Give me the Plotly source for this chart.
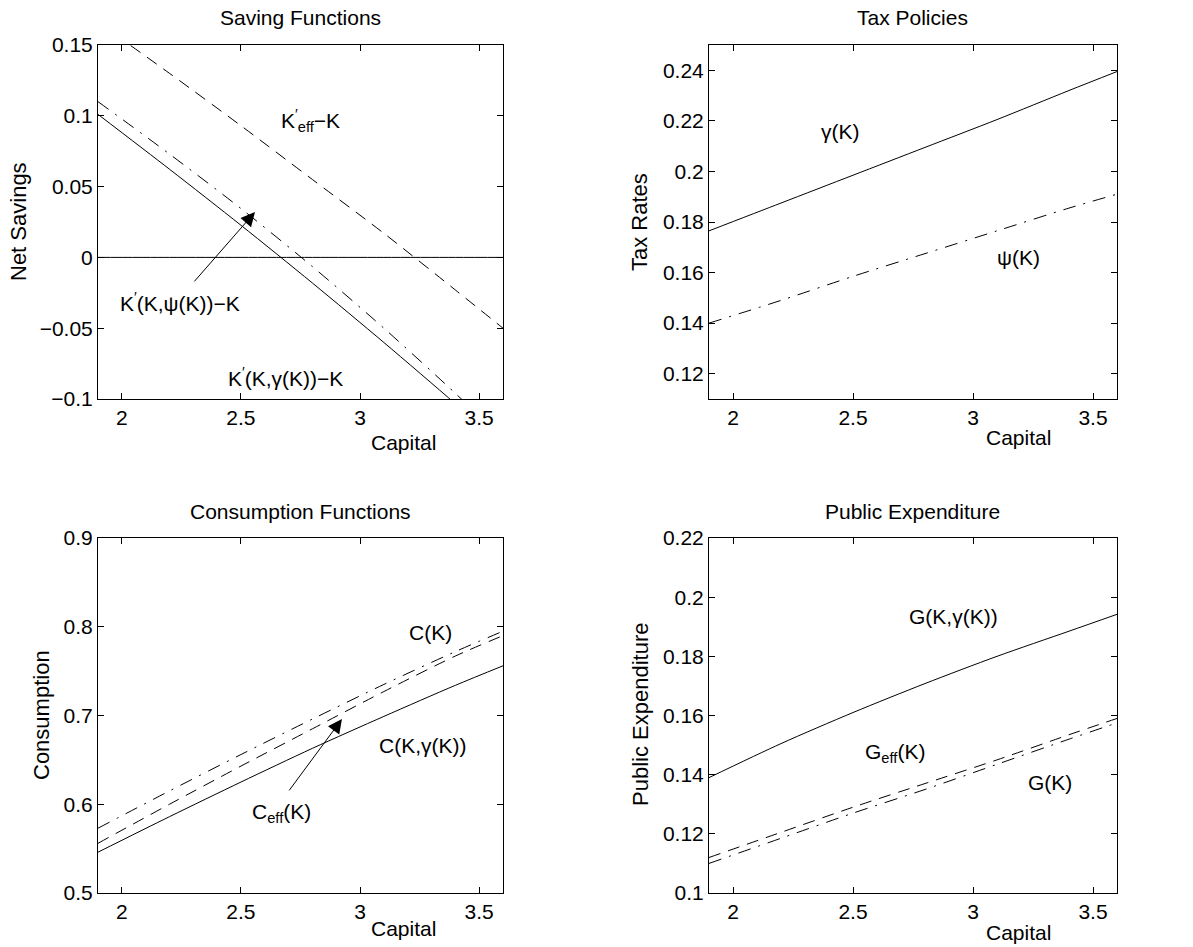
import plotly.graph_objects as go

# ---------------- data ----------------
capital = [1.9, 2.2, 2.5, 2.8, 3.1, 3.4, 3.6]

# Saving functions
sav_gamma = [0.101, 0.0623, 0.0227, -0.0181, -0.0601, -0.1033, -0.1327]
sav_psi = [0.110, 0.073, 0.0345, -0.0065, -0.050, -0.096, -0.128]
sav_eff = [0.166, 0.130, 0.093, 0.055, 0.017, -0.023, -0.050]
zero_line = [0, 0, 0, 0, 0, 0, 0]

# Tax policies
tax_gamma = [0.1765, 0.1875, 0.1985, 0.2095, 0.2205, 0.2320, 0.2395]
tax_psi = [0.1400, 0.1490, 0.1585, 0.1675, 0.1765, 0.1855, 0.1910]

# Consumption functions
cons_gamma = [0.546, 0.586, 0.625, 0.663, 0.699, 0.734, 0.756]
cons_C = [0.573, 0.615, 0.656, 0.696, 0.735, 0.772, 0.795]
cons_eff = [0.556, 0.600, 0.643, 0.685, 0.727, 0.767, 0.790]

# Public expenditure
pub_gamma = [0.139, 0.1505, 0.161, 0.1708, 0.1800, 0.1885, 0.1942]
pub_eff = [0.112, 0.1205, 0.129, 0.137, 0.145, 0.1535, 0.159]
pub_G = [0.110, 0.1185, 0.127, 0.135, 0.1435, 0.152, 0.1575]

xticks = [2, 2.5, 3, 3.5]
xticktext = ["2", "2.5", "3", "3.5"]

# ---------------- layout helpers ----------------
W, H = 1193, 947
FONT = "Liberation Sans, Arial, Helvetica, sans-serif"
FS = 21
FSY = 22
DASH = "12px,8px"
DASHDOT = "13px,8px,2px,8px"

def px(x):
    return x / W

def py(y):
    return 1 - y / H

col_x = [(98, 503), (709, 1117)]
row_y = [(45, 399), (538, 893)]

fig = go.Figure()

panels = [
    ("", 0, 0, [-0.1, 0.15], [-0.1, -0.05, 0, 0.05, 0.1, 0.15],
     ["\u22120.1", "\u22120.05", "0", "0.05", "0.1", "0.15"]),
    ("2", 1, 0, [0.11, 0.25], [0.12, 0.14, 0.16, 0.18, 0.2, 0.22, 0.24],
     ["0.12", "0.14", "0.16", "0.18", "0.2", "0.22", "0.24"]),
    ("3", 0, 1, [0.5, 0.9], [0.5, 0.6, 0.7, 0.8, 0.9],
     ["0.5", "0.6", "0.7", "0.8", "0.9"]),
    ("4", 1, 1, [0.1, 0.22], [0.1, 0.12, 0.14, 0.16, 0.18, 0.2, 0.22],
     ["0.1", "0.12", "0.14", "0.16", "0.18", "0.2", "0.22"]),
]

layout = dict(
    template="none",
    width=W, height=H, autosize=False,
    margin=dict(l=0, r=0, t=0, b=0, pad=0),
    paper_bgcolor="white", plot_bgcolor="white",
    showlegend=False,
    font=dict(family=FONT, size=FS, color="black"),
)

for sid, c, r, yr, yt, ytt in panels:
    x0, x1 = col_x[c]
    y0, y1 = row_y[r]
    layout["xaxis" + sid] = dict(
        domain=[px(x0), px(x1)], range=[1.9, 3.6], anchor="y" + sid,
        tickvals=xticks, ticktext=xticktext, ticks="inside", ticklen=6,
        showline=True, linecolor="black", linewidth=1, mirror="ticks",
        showgrid=False, zeroline=False, tickcolor="black", automargin=False,
        tickfont=dict(size=FS, family=FONT, color="black"),
    )
    layout["yaxis" + sid] = dict(
        domain=[py(y1), py(y0)], range=yr, anchor="x" + sid,
        tickvals=yt, ticktext=ytt, ticks="inside", ticklen=6,
        showline=True, linecolor="black", linewidth=1, mirror="ticks",
        showgrid=False, zeroline=False, tickcolor="black", automargin=False,
        tickfont=dict(size=FS, family=FONT, color="black"),
    )

fig.update_layout(**layout)

def add_line(y, sid, dash):
    fig.add_trace(go.Scatter(
        x=capital, y=y, mode="lines", xaxis="x" + sid, yaxis="y" + sid,
        line=dict(color="black", width=1, dash=dash, shape="spline", smoothing=0.8),
        hoverinfo="skip",
    ))

add_line(zero_line, "", "solid")
add_line(sav_gamma, "", "solid")
add_line(sav_psi, "", DASHDOT)
add_line(sav_eff, "", DASH)

add_line(tax_gamma, "2", "solid")
add_line(tax_psi, "2", DASHDOT)

add_line(cons_gamma, "3", "solid")
add_line(cons_C, "3", DASHDOT)
add_line(cons_eff, "3", DASH)

add_line(pub_gamma, "4", "solid")
add_line(pub_eff, "4", DASH)
add_line(pub_G, "4", DASHDOT)

ann = []

def txt(text, x, y, sid, size=FS):
    ann.append(dict(text=text, x=x, y=y, xref="x" + sid, yref="y" + sid,
                    showarrow=False, xanchor="center", yanchor="middle",
                    font=dict(size=size, family=FONT, color="black")))

def ptxt(text, x, y, angle=0, size=FS):
    ann.append(dict(text=text, x=px(x), y=py(y), xref="paper", yref="paper",
                    showarrow=False, xanchor="center", yanchor="middle",
                    textangle=angle,
                    font=dict(size=size, family=FONT, color="black")))

# titles
ptxt("Saving Functions", 300.5, 18)
ptxt("Tax Policies", 913, 18)
ptxt("Consumption Functions", 300.5, 512)
ptxt("Public Expenditure", 913, 512)

# y axis titles
ptxt("Net Savings", 19, 222, -90, FSY)
ptxt("Tax Rates", 640, 222, -90, FSY)
ptxt("Consumption", 41, 715, -90, FSY)
ptxt("Public Expenditure", 640, 715, -90, FSY)

# x axis labels
ptxt("Capital", 403, 443)
ptxt("Capital", 1018, 437)
ptxt("Capital", 403, 928)
ptxt("Capital", 1018, 932)

# curve labels
txt("K<sup>\u2032</sup><sub>eff</sub>\u2212K", 2.79, 0.097, "")
txt("K<sup>\u2032</sup>(K,\u03c8(K))\u2212K", 2.244, -0.0315, "")
txt("K<sup>\u2032</sup>(K,\u03b3(K))\u2212K", 2.689, -0.0845, "")
txt("\u03b3(K)", 2.446, 0.2159, "2")
txt("\u03c8(K)", 3.188, 0.1659, "2")
txt("C(K)", 3.294, 0.793, "3")
txt("C(K,\u03b3(K))", 3.265, 0.666, "3")
txt("C<sub>eff</sub>(K)", 2.672, 0.590, "3")
txt("G(K,\u03b3(K))", 2.917, 0.1933, "4")
txt("G<sub>eff</sub>(K)", 2.675, 0.1473, "4")
txt("G(K)", 3.32, 0.1372, "4")

# arrows
ann.append(dict(x=2.559, y=0.032, ax=2.299, ay=-0.018, xref="x", yref="y",
                axref="x", ayref="y", showarrow=True, arrowhead=2, arrowsize=2.8,
                arrowwidth=1, arrowcolor="black", text=""))
ann.append(dict(x=2.924, y=0.696, ax=2.698, ay=0.614, xref="x3", yref="y3",
                axref="x3", ayref="y3", showarrow=True, arrowhead=2, arrowsize=2.8,
                arrowwidth=1, arrowcolor="black", text=""))

fig.update_layout(annotations=ann)
fig.write_html("out.html")
